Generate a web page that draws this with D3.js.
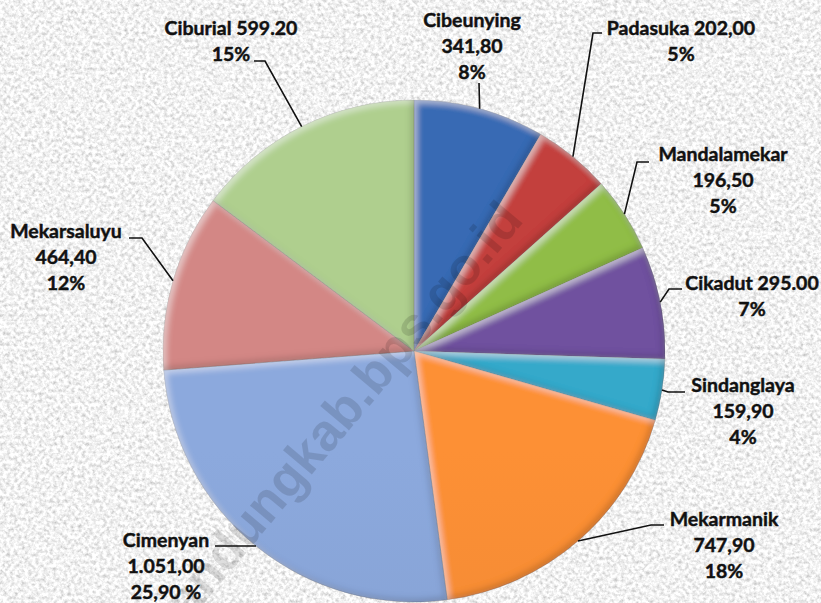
<!DOCTYPE html>
<head>
  <meta charset="utf-8">
  <script src="https://d3js.org/d3.v7.min.js"></script>
  <style>
    body { margin:0; background:#ddd; }
    svg { display:block; }
  </style>
</head>
<body>
  <div class="pie-chart"></div>
  <script>
    // data, clockwise from 12 o'clock
    const names = ['Cibeunying', 'Padasuka', 'Mandalamekar', 'Cikadut', 'Sindanglaya',
                   'Mekarmanik', 'Cimenyan', 'Mekarsaluyu', 'Ciburial'];
    const values = [341.8, 202.0, 196.5, 295.0, 159.9, 747.9, 1051.0, 464.4, 599.2];
    const valueText = ['341,80', '202,00', '196,50', '295.00', '159,90', '747,90', '1.051,00', '464,40', '599.20'];
    const pctText = ['8%', '5%', '5%', '7%', '4%', '18%', '25,90 %', '12%', '15%'];
    const colors = ['#3566ac', '#bb3e3a', '#8ab544', '#6a4e98', '#33a2c2',
                    '#f28a34', '#86a2d4', '#ca817f', '#a8c688'];

    // label layout (not data): text centre x, first baseline y, name+value on one line?, leader bends
    const labelLayout = [
      { x: 472, y: 27,  inline: false, bend: [[479, 83]] },
      { x: 681, y: 35,  inline: true,  bend: [[593, 33], [602, 33]] },
      { x: 723, y: 161, inline: false, bend: [[637, 162], [649, 162]] },
      { x: 752, y: 290, inline: true,  bend: [[669, 289], [682, 289]] },
      { x: 743, y: 392, inline: false, bend: [[668, 392], [685, 392]] },
      { x: 724, y: 526, inline: false, bend: [[651, 525], [664, 525]] },
      { x: 166, y: 547, inline: false, bend: [[215, 546]] },
      { x: 66,  y: 238, inline: false, bend: [[142, 238], [129, 238]] },
      { x: 231, y: 35,  inline: true,  bend: [[265, 61], [254, 61]] }
    ];

    const width = 821, height = 603;
    const cx = 414, cy = 351, radius = 251;
    const lineH = 26;

    const svg = d3.select('.pie-chart')
      .append('svg')
        .attr('width', width)
        .attr('height', height);

    const defs = svg.append('defs');

    // granite-like background texture
    const granite = defs.append('filter')
      .attr('id', 'granite')
      .attr('filterUnits', 'userSpaceOnUse')
      .attr('x', 0).attr('y', 0).attr('width', width).attr('height', height);
    granite.append('feTurbulence')
      .attr('type', 'fractalNoise')
      .attr('baseFrequency', 0.28)
      .attr('numOctaves', 3)
      .attr('seed', 7);
    granite.append('feColorMatrix')
      .attr('type', 'matrix')
      .attr('values', '0.85 0 0 0 0.46  0.85 0 0 0 0.46  0.85 0 0 0 0.46  0 0 0 0 1');

    svg.append('rect')
      .attr('width', width)
      .attr('height', height)
      .attr('filter', 'url(#granite)');

    // soft bevel for each slice
    const bevel = defs.append('filter').attr('id', 'bevel')
      .attr('x', '-5%').attr('y', '-5%').attr('width', '110%').attr('height', '110%');
    bevel.append('feGaussianBlur').attr('in', 'SourceAlpha').attr('stdDeviation', 3).attr('result', 'blur');
    bevel.append('feOffset').attr('in', 'blur').attr('dx', 3).attr('dy', 3).attr('result', 'blurDown');
    bevel.append('feOffset').attr('in', 'blur').attr('dx', -3).attr('dy', -3).attr('result', 'blurUp');
    bevel.append('feComposite').attr('in', 'SourceAlpha').attr('in2', 'blurDown').attr('operator', 'out').attr('result', 'hiMask');
    bevel.append('feComposite').attr('in', 'SourceAlpha').attr('in2', 'blurUp').attr('operator', 'out').attr('result', 'loMask');
    bevel.append('feFlood').attr('flood-color', '#fff').attr('flood-opacity', 0.45).attr('result', 'white');
    bevel.append('feComposite').attr('in', 'white').attr('in2', 'hiMask').attr('operator', 'in').attr('result', 'hi');
    bevel.append('feFlood').attr('flood-color', '#000').attr('flood-opacity', 0.35).attr('result', 'black');
    bevel.append('feComposite').attr('in', 'black').attr('in2', 'loMask').attr('operator', 'in').attr('result', 'lo');
    const merge = bevel.append('feMerge');
    merge.append('feMergeNode').attr('in', 'SourceGraphic');
    merge.append('feMergeNode').attr('in', 'hi');
    merge.append('feMergeNode').attr('in', 'lo');

    // vertical shading per slice
    colors.forEach((c, i) => {
      const g = defs.append('linearGradient')
        .attr('id', 'grad' + i)
        .attr('gradientUnits', 'userSpaceOnUse')
        .attr('x1', 0).attr('y1', cy - radius)
        .attr('x2', 0).attr('y2', cy + radius);
      g.append('stop').attr('offset', '0%').attr('stop-color', d3.color(c).brighter(0.12));
      g.append('stop').attr('offset', '50%').attr('stop-color', c);
      g.append('stop').attr('offset', '100%').attr('stop-color', d3.color(c).darker(0.4));
    });

    const pie = d3.pie().sort(null).value(d => d);
    const arcs = pie(values);
    const arc = d3.arc().innerRadius(0).outerRadius(radius);

    const chart = svg.append('g')
      .attr('transform', `translate(${cx},${cy})`);

    chart.selectAll('.slice')
      .data(arcs)
      .enter()
      .append('path')
        .attr('class', 'slice')
        .attr('d', arc)
        .attr('fill', (d, i) => `url(#grad${i})`)
        .attr('filter', 'url(#bevel)')
        .style('stroke', 'rgba(0,0,0,0.2)')
        .style('stroke-width', 0.8);

    // watermark
    svg.append('text')
      .attr('transform', 'translate(336,424) rotate(-50)')
      .attr('text-anchor', 'middle')
      .attr('dy', '0.27em')
      .style('font-family', '"Liberation Sans", Arial, sans-serif')
      .style('font-weight', 'bold')
      .style('font-size', '52px')
      .style('fill', '#000')
      .style('fill-opacity', 0.13)
      .text('bandungkab.bps.go.id');

    // leader lines from slice mid-angle on the rim
    const line = d3.line();
    arcs.forEach((a, i) => {
      const mid = (a.startAngle + a.endAngle) / 2;
      const start = [cx + radius * Math.sin(mid), cy - radius * Math.cos(mid)];
      svg.append('path')
        .attr('d', line([start].concat(labelLayout[i].bend)))
        .style('fill', 'none')
        .style('stroke', '#111')
        .style('stroke-width', 1.6);
    });

    // labels
    const labels = svg.selectAll('.label')
      .data(arcs)
      .enter()
      .append('text')
        .attr('class', 'label')
        .attr('text-anchor', 'middle')
        .style('font-family', 'Lato, "Open Sans", sans-serif')
        .style('font-weight', 'bold')
        .style('font-size', '19.5px')
        .style('fill', '#111')
        .style('stroke', '#111')
        .style('stroke-width', 0.45);

    labels.each(function(d, i) {
      const lay = labelLayout[i];
      const rows = lay.inline
        ? [names[i] + ' ' + valueText[i], pctText[i]]
        : [names[i], valueText[i], pctText[i]];
      d3.select(this).selectAll('tspan')
        .data(rows)
        .enter()
        .append('tspan')
          .attr('x', lay.x)
          .attr('y', (r, k) => lay.y + k * lineH)
          .text(r => r);
    });
  </script>
</body>
